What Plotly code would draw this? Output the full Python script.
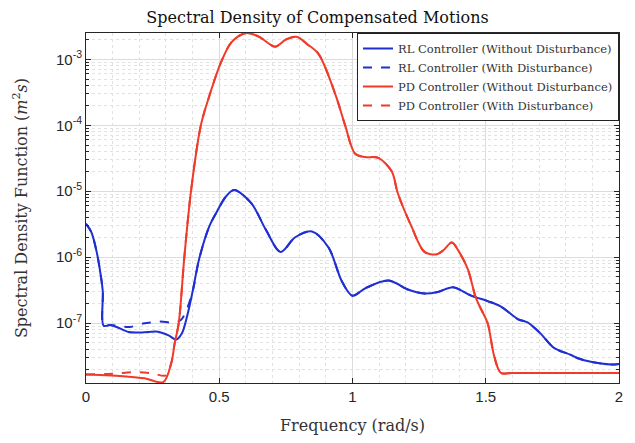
import plotly.graph_objects as go

# ---------------- data ----------------
# RL controller: low-frequency parts differ, shared tail
rl_solid_f = [0.0, 0.02, 0.04, 0.055, 0.063, 0.066, 0.09, 0.115, 0.16, 0.21, 0.27, 0.31, 0.338, 0.36, 0.38]
rl_solid_v = [3.2e-6, 2.4e-6, 1.2e-6, 5.4e-7, 3.0e-7, 9.1e-8, 9.3e-8, 8.7e-8, 7.3e-8, 7.2e-8, 7.4e-8, 6.5e-8, 5.6e-8, 7.0e-8, 1.3e-7]
rl_dash_f = [0.0, 0.02, 0.04, 0.055, 0.063, 0.066, 0.09, 0.12, 0.164, 0.214, 0.276, 0.326, 0.355, 0.375]
rl_dash_v = [3.2e-6, 2.4e-6, 1.2e-6, 5.4e-7, 3.0e-7, 9.1e-8, 9.3e-8, 9.1e-8, 8.7e-8, 9.8e-8, 1.05e-7, 1.02e-7, 1.1e-7, 1.5e-7]
rl_tail_f = [0.40, 0.425, 0.463, 0.49, 0.525, 0.556, 0.62, 0.675, 0.73, 0.785, 0.848, 0.91, 0.96, 1.0, 1.05,
             1.135, 1.21, 1.27, 1.32, 1.377, 1.445, 1.507, 1.557, 1.62, 1.657, 1.706, 1.756, 1.818, 1.843, 1.89, 1.97, 2.0]
rl_tail_v = [3.0e-7, 9.5e-7, 2.95e-6, 4.8e-6, 8.3e-6, 1.04e-5, 6.6e-6, 2.6e-6, 1.2e-6, 2.0e-6, 2.45e-6, 1.4e-6, 4.3e-7, 2.6e-7, 3.4e-7,
             4.4e-7, 3.2e-7, 2.8e-7, 2.95e-7, 3.5e-7, 2.6e-7, 2.15e-7, 1.78e-7, 1.15e-7, 1.02e-7, 6.9e-8, 4.2e-8, 3.3e-8, 2.95e-8, 2.6e-8, 2.35e-8, 2.4e-8]

# PD controller
pd_solid_f = [0.0, 0.15, 0.22, 0.29]
pd_solid_v = [1.66e-8, 1.55e-8, 1.45e-8, 1.27e-8]
pd_dash_f = [0.0, 0.1, 0.19, 0.25, 0.30]
pd_dash_v = [1.66e-8, 1.7e-8, 1.8e-8, 1.72e-8, 1.6e-8]
pd_tail_f = [0.32, 0.333, 0.348, 0.369, 0.394, 0.431, 0.463, 0.506, 0.544, 0.59, 0.61, 0.65, 0.71, 0.75, 0.79, 0.83, 0.873, 0.935, 0.973,
             1.01, 1.047, 1.097, 1.147, 1.17, 1.22, 1.27, 1.315, 1.34, 1.373, 1.40, 1.433, 1.463, 1.485, 1.507, 1.532, 1.557,
             1.6, 1.7, 1.8, 1.9, 2.0]
pd_tail_v = [2.48e-8, 5.0e-8, 1.0e-7, 1.0e-6, 1.0e-5, 1.0e-4, 2.8e-4, 8.9e-4, 1.78e-3, 2.45e-3, 2.5e-3, 2.2e-3, 1.56e-3, 2.0e-3, 2.2e-3, 1.7e-3, 1.2e-3, 3.0e-4, 9.8e-5,
             3.7e-5, 3.3e-5, 3.2e-5, 2.0e-5, 9.3e-6, 3.0e-6, 1.2e-6, 1.1e-6, 1.26e-6, 1.66e-6, 1.2e-6, 6.5e-7, 2.4e-7, 1.55e-7, 1.0e-7, 3.1e-8, 1.75e-8,
             1.75e-8, 1.75e-8, 1.75e-8, 1.75e-8, 1.75e-8]

names = ["RL Controller (Without Disturbance)", "RL Controller (With Disturbance)",
         "PD Controller (Without Disturbance)", "PD Controller (With Disturbance)"]
y_tickvals = [1e-7, 1e-6, 1e-5, 1e-4, 1e-3]
y_ticktext = ["10<sup>-7</sup>", "10<sup>-6</sup>", "10<sup>-5</sup>", "10<sup>-4</sup>", "10<sup>-3</sup>"]
x_tickvals = [0, 0.5, 1, 1.5, 2]
x_ticktext = ["0", "0.5", "1", "1.5", "2"]

BLUE = "#1f2fd3"
RED = "#f03b2b"

fig = go.Figure()
series = [
    (rl_solid_f + rl_tail_f, rl_solid_v + rl_tail_v, BLUE, "solid", names[0]),
    (rl_dash_f + rl_tail_f, rl_dash_v + rl_tail_v, BLUE, "dash", names[1]),
    (pd_solid_f + pd_tail_f, pd_solid_v + pd_tail_v, RED, "solid", names[2]),
    (pd_dash_f + pd_tail_f, pd_dash_v + pd_tail_v, RED, "dash", names[3]),
]
for fx, fy, c, d, n in series:
    fig.add_trace(go.Scatter(x=fx, y=fy, mode="lines", name=n,
                             line=dict(color=c, width=2, dash=d, shape="spline", smoothing=0.9)))

axis_common = dict(showline=True, linecolor="#262626", linewidth=1, mirror="allticks",
                   ticks="inside", ticklen=5, tickcolor="#262626",
                   showgrid=True, gridcolor="#dcdcdc", gridwidth=1, zeroline=False,
                   tickfont=dict(family="Liberation Sans", size=15, color="#262626"))

fig.update_layout(
    width=635, height=443,
    margin=dict(l=86, r=13, t=33, b=53),
    paper_bgcolor="white", plot_bgcolor="white",
    title=dict(text="Spectral Density of Compensated Motions", x=0.5, xanchor="center",
               y=1 - 17 / 443, yanchor="middle",
               font=dict(family="DejaVu Serif", size=16, color="#111")),
    xaxis=dict(range=[0, 2], tickvals=x_tickvals, ticktext=x_ticktext,
               title=dict(text="Frequency (rad/s)", standoff=15,
                          font=dict(family="DejaVu Serif", size=16, color="#333")),
               minor=dict(dtick=0.1, showgrid=True, griddash="dot", gridcolor="#e2e2e2", ticks=""),
               **axis_common),
    yaxis=dict(type="log", range=[-7.91, -2.6], tickvals=y_tickvals, ticktext=y_ticktext,
               title=dict(text="Spectral Density Function (<i>m</i><sup>2</sup><i>s</i>)", standoff=24,
                          font=dict(family="DejaVu Serif", size=16, color="#333")),
               minor=dict(dtick="D1", showgrid=True, griddash="dot", gridcolor="#e2e2e2",
                          ticks="inside", ticklen=3, tickcolor="#262626"),
               **axis_common),
    legend=dict(x=1, y=1, xanchor="right", yanchor="top", bgcolor="white",
                bordercolor="#222", borderwidth=1, tracegroupgap=0,
                font=dict(family="DejaVu Serif", size=11.5, color="#333")),
    showlegend=True,
)

fig.write_html("out.html")
